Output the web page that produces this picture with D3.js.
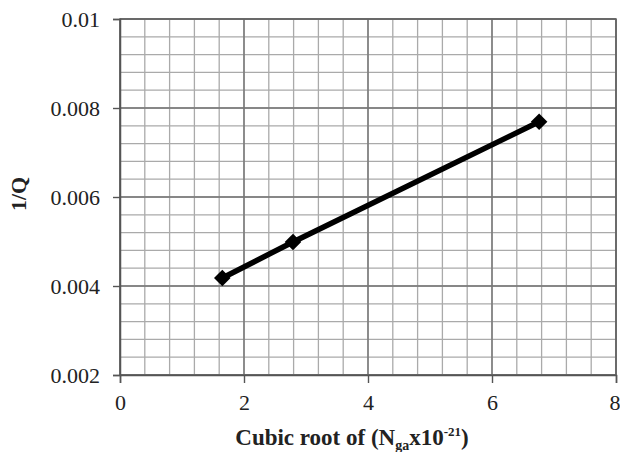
<!DOCTYPE html>
<html>
<head>
<meta charset="utf-8">
<script src="https://cdn.jsdelivr.net/npm/d3@7"></script>
<style>
html, body { margin: 0; padding: 0; background: #fff; }
svg { display: block; }
</style>
</head>
<body>
<svg id="chart" width="620" height="452"></svg>
<script>
// Data
const xValues = [1.65, 2.79, 6.76];
const yValues = [0.00418, 0.00499, 0.00769];
const xTicks = [0, 2, 4, 6, 8];
const yTicks = [0.002, 0.004, 0.006, 0.008, 0.01];
const yTickLabels = ["0.002", "0.004", "0.006", "0.008", "0.01"];
const xMinorStep = 0.4;
const yMinorStep = 0.0004;

const svg = d3.select("#chart");
const L = 120, R = 616, T = 19, B = 375;
const x = d3.scaleLinear().domain([0, 8]).range([L, R]);
const y = d3.scaleLinear().domain([0.002, 0.01]).range([B, T]);

const serif = "'Liberation Serif', 'Times New Roman', serif";

// Minor grid
const xMinor = d3.range(0, 8 + 1e-9, xMinorStep);
const yMinor = d3.range(0.002, 0.01 + 1e-9, yMinorStep);
const g = svg.append("g");
g.selectAll(".vminor").data(xMinor).join("line")
  .attr("x1", d => x(d)).attr("x2", d => x(d))
  .attr("y1", T).attr("y2", B)
  .attr("stroke", "#aaaaaa").attr("stroke-width", 1.3);
g.selectAll(".hminor").data(yMinor).join("line")
  .attr("y1", d => y(d)).attr("y2", d => y(d))
  .attr("x1", L).attr("x2", R)
  .attr("stroke", "#aaaaaa").attr("stroke-width", 1.3);
// Major grid
g.selectAll(".vmajor").data(xTicks).join("line")
  .attr("x1", d => x(d)).attr("x2", d => x(d))
  .attr("y1", T).attr("y2", B)
  .attr("stroke", "#747474").attr("stroke-width", 1.4);
g.selectAll(".hmajor").data(yTicks).join("line")
  .attr("y1", d => y(d)).attr("y2", d => y(d))
  .attr("x1", L).attr("x2", R)
  .attr("stroke", "#747474").attr("stroke-width", 1.4);

// Border
svg.append("rect").attr("x", L).attr("y", T).attr("width", R - L).attr("height", B - T)
  .attr("fill", "none").attr("stroke", "#606060").attr("stroke-width", 1.5);

// Axes
const xAxis = d3.axisBottom(x).tickValues(xTicks).tickSize(8).tickPadding(11).tickFormat(d3.format("d"));
const yAxis = d3.axisLeft(y).tickValues(yTicks).tickSize(7).tickPadding(13)
  .tickFormat((d, i) => yTickLabels[i]);

const gx = svg.append("g").attr("transform", `translate(0,${B})`).call(xAxis);
const gy = svg.append("g").attr("transform", `translate(${L},0)`).call(yAxis);
[gx, gy].forEach(a => {
  a.attr("font-family", null).attr("font-size", null);
  a.select(".domain").attr("stroke", "#555").attr("stroke-width", 1.5);
  a.selectAll(".tick line").attr("stroke", "#555").attr("stroke-width", 1.4);
  a.selectAll("text")
    .style("font-family", serif).style("font-size", "22px").style("fill", "#222");
});
// keep the last x label inside the window
gx.selectAll(".tick text").filter(d => d === 8).attr("text-anchor", "end").attr("dx", 4);

// Line
const line = d3.line().x((d, i) => x(xValues[i])).y((d, i) => y(yValues[i]));
svg.append("path").datum(xValues).attr("d", line)
  .attr("fill", "none").attr("stroke", "#000").attr("stroke-width", 5.5)
  .attr("stroke-linejoin", "round");

// Diamond markers
svg.selectAll(".pt").data(xValues).join("path")
  .attr("transform", (d, i) => `translate(${x(d)},${y(yValues[i])})`)
  .attr("d", d3.symbol().type(d3.symbolDiamond2).size(175))
  .attr("fill", "#000");

// Axis titles
svg.append("text")
  .attr("transform", "translate(26,194) rotate(-90)")
  .attr("text-anchor", "middle")
  .style("font-family", serif).style("font-weight", "bold").style("font-size", "22px")
  .style("fill", "#222")
  .text("1/Q");

const xt = svg.append("text")
  .attr("x", 352).attr("y", 445)
  .attr("text-anchor", "middle")
  .style("font-family", serif).style("font-weight", "bold").style("font-size", "23px")
  .style("fill", "#222");
xt.append("tspan").text("Cubic root of (N");
xt.append("tspan").style("font-size", "14px").attr("dy", 5).text("ga");
xt.append("tspan").attr("dy", -5).text("x10");
xt.append("tspan").style("font-size", "13px").attr("dy", -9).text("-21");
xt.append("tspan").attr("dy", 9).text(")");
</script>
</body>
</html>
